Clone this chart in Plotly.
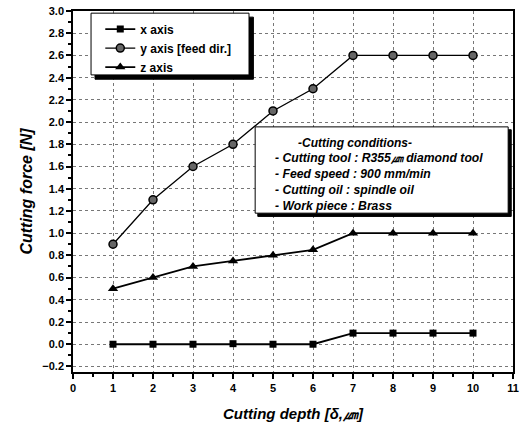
import plotly.graph_objects as go

depth = [1, 2, 3, 4, 5, 6, 7, 8, 9, 10]
x_axis_force = [0.0, 0.0, 0.0, 0.005, 0.0, 0.0, 0.1, 0.1, 0.1, 0.1]
y_axis_force = [0.9, 1.3, 1.6, 1.8, 2.1, 2.3, 2.6, 2.6, 2.6, 2.6]
z_axis_force = [0.5, 0.6, 0.7, 0.75, 0.8, 0.85, 1.0, 1.0, 1.0, 1.0]
series_names = ["x axis", "y axis [feed dir.]", "z axis"]
y_ticks = [-0.2, 0.0, 0.2, 0.4, 0.6, 0.8, 1.0, 1.2, 1.4, 1.6, 1.8, 2.0, 2.2, 2.4, 2.6, 2.8, 3.0]
x_ticks = list(range(0, 12))
conditions = [
    "-Cutting conditions-",
    "- Cutting tool : R355㎛ diamond tool",
    "- Feed speed : 900 mm/min",
    "- Cutting oil : spindle oil",
    "- Work piece : Brass",
]

FONT = "Arial, Liberation Sans, sans-serif"

fig = go.Figure()
fig.add_trace(go.Scatter(x=depth, y=x_axis_force, name=series_names[0], mode="lines+markers",
                         line=dict(color="black", width=1.8),
                         marker=dict(symbol="square", size=7, color="black")))
fig.add_trace(go.Scatter(x=depth, y=y_axis_force, name=series_names[1], mode="lines+markers",
                         line=dict(color="black", width=1.3),
                         marker=dict(symbol="circle", size=8, color="#666666",
                                     line=dict(color="black", width=1.5))))
fig.add_trace(go.Scatter(x=depth, y=z_axis_force, name=series_names[2], mode="lines+markers",
                         line=dict(color="black", width=1.8),
                         marker=dict(symbol="triangle-up", size=9, color="black")))

axis_common = dict(
    showline=True, linecolor="black", linewidth=1.5, mirror=True,
    showgrid=True, gridcolor="#777777", griddash="dot", gridwidth=1,
    zeroline=False, ticks="outside", ticklen=5, tickcolor="black", tickwidth=1.5,
    tickfont=dict(family=FONT, size=11, color="black", weight="bold"),
    automargin=False, ticklabeloverflow="allow",
)

fig.update_xaxes(range=[0, 11], tickvals=x_ticks, **axis_common,
                 minor=dict(dtick=0.5, ticks="outside", ticklen=3, tickcolor="black", showgrid=False),
                 title=dict(text="<b><i>Cutting depth [δ,㎛]</i></b>",
                            font=dict(family=FONT, size=15, color="black"),
                            standoff=16))
fig.update_yaxes(range=[-0.25, 3.0], tickvals=y_ticks, tickformat=".1f", **axis_common,
                 minor=dict(dtick=0.1, tick0=0, ticks="outside", ticklen=3, tickcolor="black", showgrid=False),
                 title=dict(text="<b><i>Cutting force [N]</i></b>",
                            font=dict(family=FONT, size=16, color="black"),
                            standoff=6))

# legend frame with drop shadow
fig.add_shape(type="rect", xref="paper", yref="paper",
              x0=0.050, x1=0.410, y0=0.811, y1=0.983,
              fillcolor="black", line=dict(color="black", width=1), layer="above")
fig.add_shape(type="rect", xref="paper", yref="paper",
              x0=0.041, x1=0.400, y0=0.823, y1=0.994,
              fillcolor="white", line=dict(color="black", width=1), layer="above")
# conditions frame with drop shadow
fig.add_shape(type="rect", xref="paper", yref="paper",
              x0=0.420, x1=0.996, y0=0.431, y1=0.671,
              fillcolor="black", line=dict(color="black", width=1), layer="above")
fig.add_shape(type="rect", xref="paper", yref="paper",
              x0=0.414, x1=0.989, y0=0.440, y1=0.679,
              fillcolor="white", line=dict(color="black", width=1), layer="above")

fig.add_annotation(xref="paper", yref="paper", x=0.640, y=0.660, xanchor="center", yanchor="top",
                   text="<b><i>" + conditions[0] + "</i></b>",
                   showarrow=False, font=dict(family=FONT, size=12, color="black"))
fig.add_annotation(xref="paper", yref="paper", x=0.455, y=0.617, xanchor="left", yanchor="top",
                   text="<br>".join("<b><i>" + c + "</i></b>" for c in conditions[1:]),
                   align="left", showarrow=False,
                   font=dict(family=FONT, size=12.2, color="black"))

fig.update_layout(
    width=523, height=428,
    margin=dict(l=73, r=10, t=11, b=56),
    plot_bgcolor="white", paper_bgcolor="white",
    legend=dict(x=0.062, y=0.99, xanchor="left", yanchor="top",
                bgcolor="rgba(0,0,0,0)", borderwidth=0,
                font=dict(family=FONT, size=12, color="black", weight="bold"),
                tracegroupgap=0, itemwidth=30),
    showlegend=True,
)

# remove the default 8px page-body margin so the figure sits at the window's corner
fig.write_html("out.html", config={"displayModeBar": False},
               post_script="document.body.style.margin='0';")
